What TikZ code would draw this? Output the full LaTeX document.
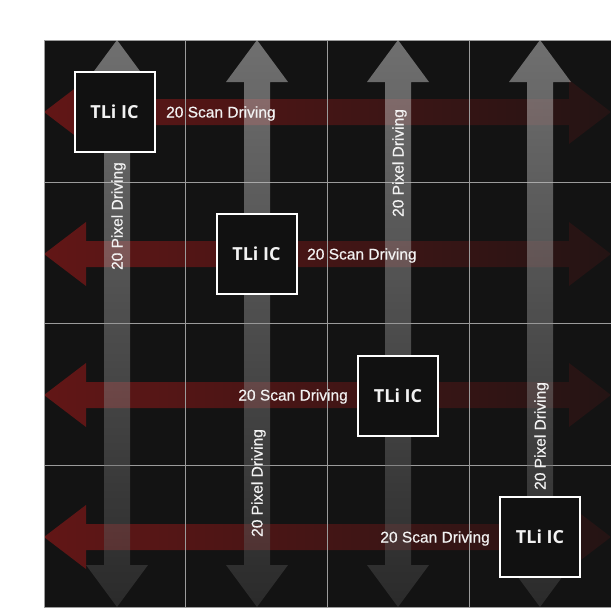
\documentclass[tikz,border=0pt]{standalone}
\usepackage{fontspec}
\setmainfont{Liberation Sans}
\newfontfamily\lblfont[FakeBold=0.5]{Liberation Sans}
\newfontfamily\boxfont{Open Sans}
\definecolor{bgc}{RGB}{19,19,19}
\definecolor{boxc}{RGB}{17,17,17}
\definecolor{redL}{RGB}{98,22,22}
\definecolor{redR}{RGB}{36,20,20}
\definecolor{grayT}{RGB}{225,225,225}
\definecolor{grayB}{RGB}{72,72,72}
\definecolor{gridc}{RGB}{155,155,155}
\definecolor{txtc}{RGB}{242,242,242}
\tikzset{
  icbox/.style={draw=white, line width=2pt, fill=boxc, minimum width=80pt, minimum height=80pt,
    inner sep=0pt, text=txtc, font=\boxfont\bfseries\fontsize{18pt}{20pt}\selectfont},
  lbl/.style={inner sep=0pt, text=txtc, font=\lblfont\fontsize{15.5pt}{17pt}\selectfont},
  gridline/.style={draw=gridc, line width=1pt},
  hshade/.style={left color=redL, right color=redR},
  vshade/.style={top color=grayT, bottom color=grayB, fill opacity=0.45}
}
\newcommand{\harrow}[1]{%
  \shade[hshade] (44,#1) -- (86,#1-32) -- (86,#1-13) -- (569,#1-13) -- (569,#1-32) -- (611,#1)
    -- (569,#1+32) -- (569,#1+13) -- (86,#1+13) -- (86,#1+32) -- cycle;}
\newcommand{\varrow}[1]{%
  \shade[vshade] (#1,40) -- (#1+31,82) -- (#1+13,82) -- (#1+13,565) -- (#1+31,565) -- (#1,607)
    -- (#1-31,565) -- (#1-13,565) -- (#1-13,82) -- (#1-31,82) -- cycle;}
\begin{document}
\begin{tikzpicture}[x=1pt,y=-1pt]
\useasboundingbox (0,0) rectangle (611,611);
% background
\fill[bgc] (44,40) rectangle (611,607);
% red scan arrows
\harrow{112}
\harrow{254}
\harrow{395}
\harrow{537}
% grid
\foreach \gx in {185,327,469} \draw[gridline] (\gx,40) -- (\gx,607);
\foreach \gy in {182,323,465} \draw[gridline] (44,\gy) -- (611,\gy);
\draw[gridline] (611,40) -- (44,40) -- (44,607) -- (611,607);
% pixel arrows
\varrow{117}
\varrow{257}
\varrow{398}
\varrow{540}
% IC boxes
\node[icbox] (ic1) at (114.5,111.5) {TLi IC};
\node[icbox] (ic2) at (256.5,253.5) {TLi IC};
\node[icbox] (ic3) at (398,395.5) {TLi IC};
\node[icbox] (ic4) at (540,537) {TLi IC};
% scan labels
\node[lbl, anchor=base west] (s1) at (166,117.5) {20 Scan Driving};
\node[lbl, anchor=base west] (s2) at (307,259.5) {20 Scan Driving};
\node[lbl, anchor=base east] (s3) at (348,400.5) {20 Scan Driving};
\node[lbl, anchor=base east] (s4) at (490,542.5) {20 Scan Driving};
% pixel labels
\node[lbl, rotate=90, anchor=base east] (p1) at (122.5,162) {20 Pixel Driving};
\node[lbl, rotate=90, anchor=base west] (p2) at (262.5,537) {20 Pixel Driving};
\node[lbl, rotate=90, anchor=base west] (p3) at (403.5,217) {20 Pixel Driving};
\node[lbl, rotate=90, anchor=base west] (p4) at (545.5,490) {20 Pixel Driving};
\end{tikzpicture}
\end{document}
